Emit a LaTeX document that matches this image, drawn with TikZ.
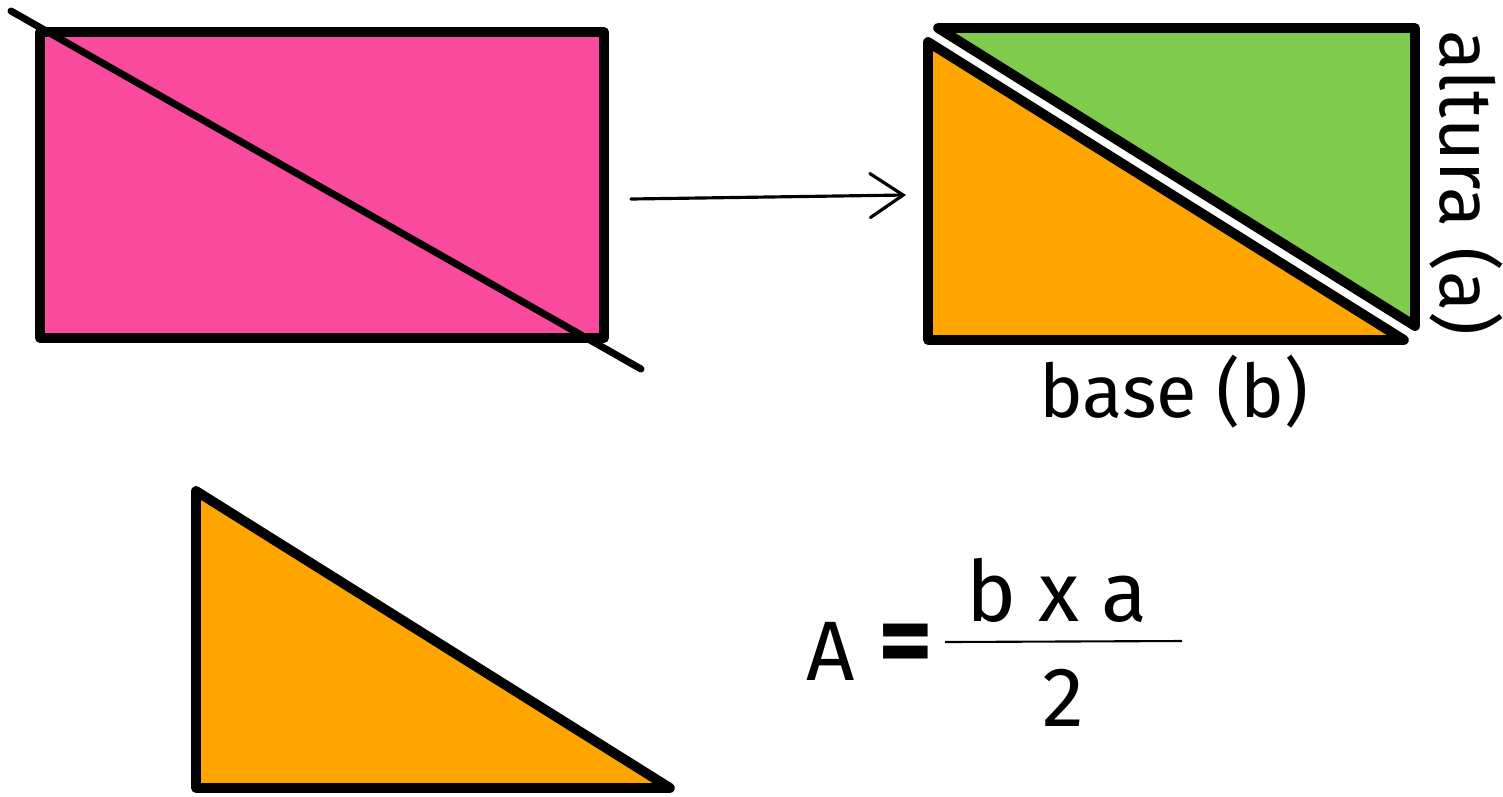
\documentclass[tikz,border=0pt]{standalone}
\usepackage{fontspec}
\setmainfont{Fira Sans}
\usetikzlibrary{arrows.meta}
\definecolor{rosa}{HTML}{FA4A9E}
\definecolor{verde}{HTML}{7ECB4E}
\definecolor{naranja}{HTML}{FEA500}
\tikzset{
    figura/.style = {draw=black, line width=2.8pt, line join=round},
    corte/.style = {draw=black, line width=2pt, line cap=round},
    flecha/.style = {draw=black, line width=0.9pt, line cap=round, -{Straight Barb[length=3.3mm, width=4.4mm, line cap=round]}},
    rotulo/.style = {font=\fontsize{21}{25}\selectfont, inner sep=0pt},
    formula/.style = {font=\fontsize{24}{28}\selectfont, inner sep=0pt},
}

\begin{document}
\begin{tikzpicture}[x=0.01cm, y=-0.01cm]
                \useasboundingbox (0, 0) rectangle (1503, 796);

                % rectangulo
                \coordinate (r1) at (40, 32);
                \coordinate (r2) at (604, 338);
                \coordinate (d1) at (11, 11);
                \coordinate (d2) at (641, 369);
                \path [figura, fill=rosa] (r1) rectangle (r2);
                \draw [corte] (d1) -- (d2);

                % flecha
                \coordinate (f1) at (631, 199);
                \coordinate (f2) at (906, 195);
                \draw [flecha] (f1) -- (f2);

                % dos triangulos
                \coordinate (v1) at (938, 28);
                \coordinate (v2) at (1415, 28);
                \coordinate (v3) at (1415, 326);
                \coordinate (n1) at (928, 42);
                \coordinate (n2) at (928, 340);
                \coordinate (n3) at (1404, 340);
                \path [figura, fill=verde] (v1) -- (v2) -- (v3) -- cycle;
                \path [figura, fill=naranja] (n1) -- (n2) -- (n3) -- cycle;

                \node [rotulo, rotate=-90] (altura) at (1466, 183) {altura (a)};
                \node [rotulo] (base) at (1174, 392) {base (b)};

                % triangulo de abajo
                \coordinate (t1) at (196, 491);
                \coordinate (t2) at (196, 788);
                \coordinate (t3) at (670, 788);
                \path [figura, fill=naranja] (t1) -- (t2) -- (t3) -- cycle;

                % area
                \node [formula] (A) at (831, 651) {A};
                \node [formula, font=\fontsize{30}{34}\bfseries] (igual) at (906, 650) {=};
                \coordinate (b1) at (945, 642);
                \coordinate (b2) at (1182, 641);
                \draw [line width=0.6pt] (b1) -- (b2);
                \node [formula] (num) at (1057, 590) {b x a};
                \node [formula] (den) at (1063, 698) {2};
\end{tikzpicture}
\end{document}
